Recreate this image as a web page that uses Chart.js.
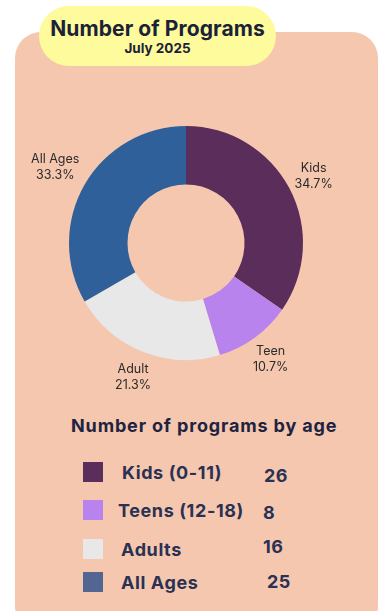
<!DOCTYPE html>
<html>
<head>
<meta charset="utf-8">
<script src="https://cdn.jsdelivr.net/npm/chart.js@4"></script>
<style>
  html, body { margin:0; padding:0; background:#ffffff; }
  body { width:381px; height:611px; position:relative; overflow:hidden; font-family:Inter, "Noto Sans", sans-serif; }
  .card { position:absolute; left:15px; top:32px; width:363px; height:600px; background:#f5c7af; border-radius:26px; }
  .pill { position:absolute; left:39px; top:6px; width:237px; height:60px; background:#fdfb9b; border-radius:30px; text-align:center; color:#1b2238; }
  .pill .t1 { font-weight:700; font-size:21px; line-height:22px; margin-top:12px; letter-spacing:0.1px; }
  .pill .t2 { font-weight:700; font-size:13.5px; line-height:16px; }
  #wrap { position:absolute; left:16px; top:93px; width:340px; height:300px; }
  .ltitle { position:absolute; left:71px; top:415px; font-weight:700; font-size:18px; letter-spacing:0.85px; color:#1e2340; white-space:nowrap; }
  .row { position:absolute; left:0; width:381px; height:20px; }
  .row .sw { position:absolute; left:83px; top:0; width:20px; height:20px; }
  .row .lb { position:absolute; top:0; font-weight:700; font-size:18px; letter-spacing:0.6px; color:#2a3152; white-space:nowrap; }
  .row .vl { position:absolute; top:0; font-weight:700; font-size:18px; letter-spacing:0.4px; color:#2a3152; }
</style>
</head>
<body>
<div class="card"></div>
<div class="pill"><div class="t1">Number of Programs</div><div class="t2">July 2025</div></div>
<div id="wrap"><canvas id="donut" width="340" height="300"></canvas></div>
<div class="ltitle">Number of programs by age</div>
<div id="legend"></div>
<script>
'use strict';

// ── Data ──────────────────────────────────────────────────────
const sliceLabels   = ['Kids', 'Teen', 'Adult', 'All Ages'];
const programCounts = [26, 8, 16, 25];
const sliceColors   = ['#5a2d5a', '#b983ee', '#e8e8e8', '#2f6099'];

const legendLabels  = ['Kids (0-11)', 'Teens (12-18)', 'Adults', 'All Ages'];
const legendColors  = ['#5a2d5a', '#b983ee', '#e8e8e8', '#536691'];

// ── Legend (HTML) ─────────────────────────────────────────────
const rowTops   = [462, 500, 539, 572];
const labelX    = [122, 118, 121, 121];
const valueX    = [264, 263, 263, 267];
const valueDy   = [3, 2, -3, -1];
const legendEl  = document.getElementById('legend');
legendLabels.forEach((lbl, i) => {
    const row = document.createElement('div');
    row.className = 'row';
    row.style.top = rowTops[i] + 'px';
    row.innerHTML = `<div class="sw" style="background:${legendColors[i]}"></div>` +
        `<div class="lb" style="left:${labelX[i]}px">${lbl}</div>` +
        `<div class="vl" style="left:${valueX[i]}px;top:${valueDy[i]}px">${programCounts[i]}</div>`;
    legendEl.appendChild(row);
});

// ── Outside labels plugin ─────────────────────────────────────
const outsideLabels = {
    id: 'outsideLabels',
    afterDatasetsDraw(chart) {
        const ctx   = chart.ctx;
        const meta  = chart.getDatasetMeta(0);
        const data  = chart.data.datasets[0].data;
        const total = data.reduce((s, v) => s + v, 0);
        ctx.save();
        ctx.font = '12.5px Inter, "Noto Sans", sans-serif';
        ctx.fillStyle = '#2b2b2b';
        ctx.textAlign = 'center';
        ctx.textBaseline = 'middle';
        meta.data.forEach((arc, i) => {
            const p   = arc.getProps(['x','y','startAngle','endAngle','outerRadius'], true);
            const mid = (p.startAngle + p.endAngle) / 2;
            const r   = p.outerRadius + (i === 3 ? 34 : 27);
            const x   = p.x + Math.cos(mid) * r;
            const y   = p.y + Math.sin(mid) * r;
            const pct = (data[i] / total * 100).toFixed(1) + '%';
            ctx.fillText(chart.data.labels[i], x, y - 8);
            ctx.fillText(pct, x, y + 8);
        });
        ctx.restore();
    }
};

new Chart(document.getElementById('donut').getContext('2d'), {
    type: 'doughnut',
    data: { labels: sliceLabels, datasets: [{ data: programCounts, backgroundColor: sliceColors, borderWidth: 0 }] },
    options: {
        responsive: false, animation: false, cutout: '50%',
        layout: { padding: { left: 53, right: 53, top: 33, bottom: 33 } },
        plugins: { legend: { display: false }, tooltip: { enabled: false } }
    },
    plugins: [outsideLabels]
});
</script>
</body>
</html>
